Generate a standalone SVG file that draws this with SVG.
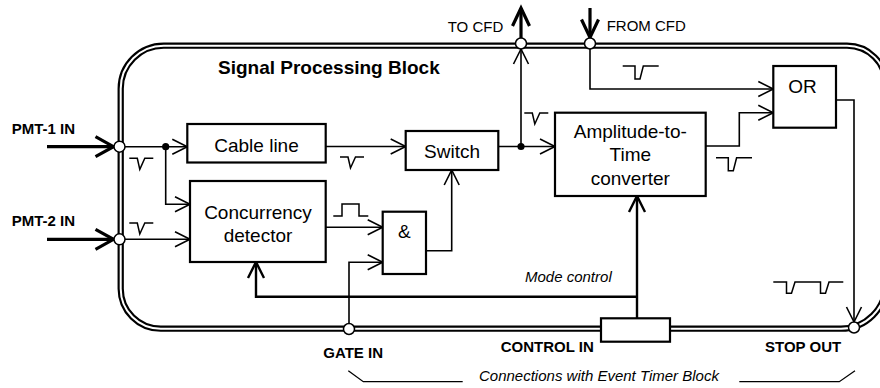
<svg xmlns="http://www.w3.org/2000/svg" xmlns:xlink="http://www.w3.org/1999/xlink" width="880" height="388" viewBox="0 0 880 388">
<style>
.box{fill:#fff;stroke:#000;stroke-width:2.2}
.ln{fill:none;stroke:#000;stroke-width:1.6}
.thk{fill:none;stroke:#000;stroke-width:2.4}
.big{fill:none;stroke:#000;stroke-width:3.2}
.port{fill:#fff;stroke:#000;stroke-width:1.5}
.dot{fill:#000}
.pulse{fill:none;stroke:#000;stroke-width:1.5}
.t{font-family:"Liberation Sans",Arial,sans-serif;font-size:19px;fill:#000}
.lbl{font-family:"Liberation Sans",Arial,sans-serif;font-size:15px;fill:#000}
.b{font-weight:bold}
.i{font-style:italic}
</style>
<defs>
<marker id="a" markerUnits="userSpaceOnUse" markerWidth="20" markerHeight="19" viewBox="-2 -2 20 19" refX="15" refY="7.5" orient="auto" style="overflow:visible"><path d="M0,0 L15,7.5 L0,15" fill="none" stroke="#000" stroke-width="1.6"/></marker>
<marker id="at" markerUnits="userSpaceOnUse" markerWidth="20" markerHeight="20" viewBox="-2 -2 20 20" refX="16" refY="8" orient="auto" style="overflow:visible"><path d="M0,0 L16,8 L0,16" fill="none" stroke="#000" stroke-width="2.4"/></marker>
<marker id="ab" markerUnits="userSpaceOnUse" markerWidth="24" markerHeight="24" viewBox="-3 -3 24 24" refX="18" refY="10" orient="auto" style="overflow:visible"><path d="M0,0 L18,10 L0,20" fill="none" stroke="#000" stroke-width="3.2"/></marker>
<marker id="ac" markerUnits="userSpaceOnUse" markerWidth="24" markerHeight="24" viewBox="-3 -3 24 24" refX="18" refY="8.5" orient="auto" style="overflow:visible"><path d="M0,0 L18,8.5 L0,17" fill="none" stroke="#000" stroke-width="3.2"/></marker>
<path id="pv" d="M0,0 h8 l2.5,11 l5,-11 h8.5"/>
<path id="pn" d="M0,0 h12.3 v13 h5 l3.3,-13 h15.4"/>
</defs>

<g id="block">
<path d="M163.7,45.7 H847 A39,39 0 0 1 886,84.7 V283.7 A45,45 0 0 1 841,328.7 H160.7 A40,40 0 0 1 120.7,288.7 V88.7 A43,43 0 0 1 163.7,45.7 Z" fill="none" stroke="#000" stroke-width="6.3"/>
<path d="M163.7,45.7 H847 A39,39 0 0 1 886,84.7 V283.7 A45,45 0 0 1 841,328.7 H160.7 A40,40 0 0 1 120.7,288.7 V88.7 A43,43 0 0 1 163.7,45.7 Z" fill="none" stroke="#fff" stroke-width="2"/>
<text class="t b" x="218" y="74">Signal Processing Block</text>
</g>

<g id="connectors">
<path class="big" d="M47,146.7 H113.5" marker-end="url(#ab)"/>
<path class="big" d="M47,239.3 H113.5" marker-end="url(#ab)"/>
<path class="big" d="M521,38 V8" marker-end="url(#ac)"/>
<path class="big" d="M590,8 V37.5" marker-end="url(#ac)"/>
<path class="ln" d="M125,146.7 H187.3" marker-end="url(#a)"/>
<path class="ln" d="M165.7,146.7 V204.3 H190" marker-end="url(#a)"/>
<path class="ln" d="M125,239.3 H190" marker-end="url(#a)"/>
<path class="ln" d="M325.7,146.5 H405.7" marker-end="url(#a)"/>
<path class="ln" d="M498.3,146.5 H555" marker-end="url(#a)"/>
<path class="ln" d="M521,146.5 V49" marker-end="url(#a)"/>
<path class="ln" d="M590,49 V89 H773.3" marker-end="url(#a)"/>
<path class="ln" d="M705.7,146 H739.3 V112.7 H773.3" marker-end="url(#a)"/>
<path class="ln" d="M836,100 H854 V322" marker-end="url(#a)"/>
<path class="ln" d="M325.7,227.3 H382.7" marker-end="url(#a)"/>
<path class="ln" d="M349,323.5 V262.3 H382.7" marker-end="url(#a)"/>
<path class="ln" d="M426,250.7 H451.7 V170" marker-end="url(#a)"/>
<path class="thk" d="M637,318.3 V196" marker-end="url(#at)"/>
<path class="thk" d="M637,296.7 H256 V262" marker-end="url(#at)"/>
<circle class="dot" cx="165.7" cy="146.7" r="3.6"/>
<circle class="dot" cx="521" cy="146.5" r="3.6"/>
<use href="#pv" class="pulse" x="129.3" y="158.3"/>
<use href="#pv" class="pulse" x="129.3" y="223"/>
<use href="#pv" class="pulse" x="340" y="157"/>
<use href="#pv" class="pulse" x="524.3" y="113"/>
<use href="#pn" class="pulse" x="622.7" y="66"/>
<use href="#pn" class="pulse" x="716" y="157.7"/>
<path class="pulse" d="M773.3,282 H786.5 V293.3 H791.5 L795,282 H820.5 V293.3 H825.5 L829,282 H843.3"/>
<path class="pulse" d="M333.3,216 H342 V204 H359 V216 H368.3"/>
<text class="lbl i" x="525" y="281.7">Mode control</text>
</g>

<g id="pmt1-in"><circle class="port" cx="119.5" cy="146.7" r="5.5"/><text class="lbl b" x="11.7" y="134">PMT-1 IN</text></g>
<g id="pmt2-in"><circle class="port" cx="119.5" cy="239.3" r="5.5"/><text class="lbl b" x="11.7" y="225.7">PMT-2 IN</text></g>
<g id="to-cfd"><circle class="port" cx="521" cy="43.5" r="5.5"/><text class="lbl" x="447.7" y="31.7">TO CFD</text></g>
<g id="from-cfd"><circle class="port" cx="590" cy="43.5" r="5.5"/><text class="lbl" x="606.7" y="30.7">FROM CFD</text></g>
<g id="gate-in"><circle class="port" cx="349" cy="329" r="5.5"/><text class="lbl b" x="323.3" y="358.3">GATE IN</text></g>
<g id="stop-out"><circle class="port" cx="854" cy="327.5" r="5.5"/><text class="lbl b" x="765" y="352.3">STOP OUT</text></g>
<g id="control-in"><rect class="box" x="601" y="318.3" width="69" height="23.4" stroke-width="1.6"/><text class="lbl b" x="500.7" y="352.3">CONTROL IN</text></g>

<g id="cable-line"><rect class="box" x="187.3" y="124" width="138.4" height="38.5"/><text class="t" x="256.5" y="151.7" text-anchor="middle">Cable line</text></g>
<g id="concurrency-detector"><rect class="box" x="190" y="181" width="135.7" height="81" stroke-width="2.6"/><text class="t" x="258" y="219.3" text-anchor="middle">Concurrency</text><text class="t" x="258" y="241.7" text-anchor="middle">detector</text></g>
<g id="switch"><rect class="box" x="405.7" y="131" width="92.6" height="39"/><text class="t" x="452" y="157.7" text-anchor="middle">Switch</text></g>
<g id="and-gate"><rect class="box" x="382.7" y="211.7" width="43.3" height="62.3"/><text class="t" x="404.3" y="237.5" text-anchor="middle">&amp;</text></g>
<g id="atc"><rect class="box" x="555" y="112.7" width="150.7" height="83.3"/><text class="t" x="630.3" y="137.5" text-anchor="middle">Amplitude-to-</text><text class="t" x="630.3" y="160.7" text-anchor="middle">Time</text><text class="t" x="630.3" y="185" text-anchor="middle">converter</text></g>
<g id="or-gate"><rect class="box" x="773.3" y="66" width="62.7" height="61.7"/><text class="t" x="802.5" y="93.3" text-anchor="middle">OR</text></g>

<g id="timer-bracket">
<path d="M348.3,370.7 L363.3,381.7 H462.7 M739.3,381.7 H839.3 L855,370.7" fill="none" stroke="#000" stroke-width="1.3"/>
<text class="lbl i" x="479" y="380.7">Connections with Event Timer Block</text>
</g>
</svg>
